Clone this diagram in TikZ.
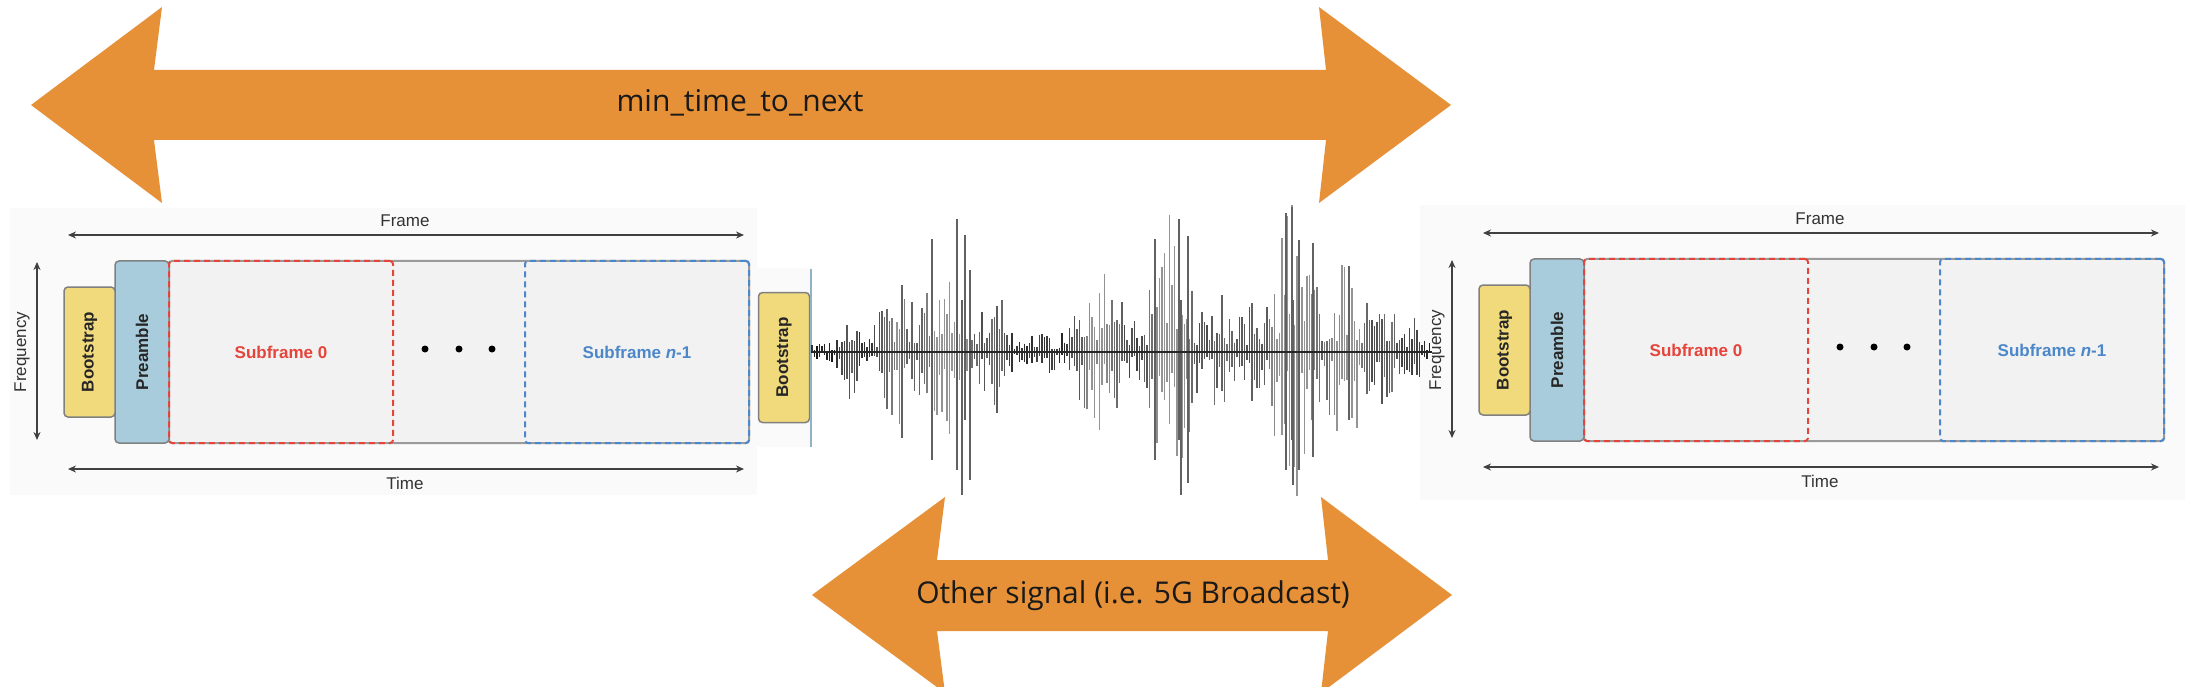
\documentclass[tikz,border=0pt]{standalone}
\usepackage{fontspec}
\setmainfont{Open Sans}
\newfontfamily\arialf{Liberation Sans}
\usetikzlibrary{arrows.meta}
\definecolor{orng}{HTML}{E69138}
\definecolor{bootyellow}{HTML}{F1DA7C}
\definecolor{preblue}{HTML}{A8CCDB}
\definecolor{mainfill}{HTML}{F2F2F2}
\definecolor{mainborder}{HTML}{9A9A9A}
\definecolor{subred}{HTML}{E5443B}
\definecolor{subblue}{HTML}{4C87C9}
\definecolor{panelbg}{HTML}{FAFAFA}
\definecolor{edgeblue}{HTML}{8FB2C4}

\pgfmathdeclarefunction{bump}{4}{%
  \begingroup
  \pgfmathparse{(#1-#2)/#3}\let\bmpt\pgfmathresult
  \pgfmathparse{#4*exp(-min(\bmpt*\bmpt,9))}%
  \pgfmathsmuggle\pgfmathresult
  \endgroup}
\pgfmathdeclarefunction{wenv}{1}{%
  \begingroup
  \pgfmathparse{9+bump(#1,850,10,40)+bump(#1,895,18,75)
    +bump(#1,950,24,140)+bump(#1,997,12,50)+bump(#1,1040,15,18)
    +bump(#1,1100,26,85)+bump(#1,1172,22,145)+bump(#1,1222,16,55)
    +bump(#1,1252,14,35)+bump(#1,1292,22,150)+bump(#1,1347,24,95)
    +bump(#1,1390,12,50)+bump(#1,1414,8,28)}%
  \pgfmathsmuggle\pgfmathresult
  \endgroup}

\tikzset{
  dimarrow/.style={draw=black!75, line width=1.4pt,
    {Stealth[length=8pt,width=7pt]}-{Stealth[length=8pt,width=7pt]}},
  smalllabel/.style={font=\arialf\fontsize{17}{20}\selectfont, text=black!80, inner sep=0pt},
  bootbox/.style={draw=black!50, line width=1.5pt, fill=bootyellow, rounded corners=4pt,
    rotate=90, minimum width=130pt, minimum height=51pt, inner sep=0pt,
    font=\arialf\bfseries\fontsize{17}{20}\selectfont, text=black!85},
  prebox/.style={draw=black!50, line width=1.5pt, fill=preblue, rounded corners=4pt,
    rotate=90, minimum width=182pt, minimum height=54pt, inner sep=0pt,
    font=\arialf\bfseries\fontsize{17}{20}\selectfont, text=black!85},
  mainbox/.style={draw=mainborder, line width=2pt, fill=mainfill, rounded corners=3pt,
    minimum width=580pt, minimum height=182pt, inner sep=0pt},
  redsub/.style={draw=subred, line width=2pt, dash pattern=on 6pt off 4pt, rounded corners=3pt,
    minimum width=224pt, minimum height=182pt, inner sep=0pt,
    font=\arialf\bfseries\fontsize{17}{20}\selectfont, text=subred},
  bluesub/.style={draw=subblue, line width=2pt, dash pattern=on 6pt off 4pt, rounded corners=3pt,
    minimum width=224pt, minimum height=182pt, inner sep=0pt,
    font=\arialf\bfseries\fontsize{17}{20}\selectfont, text=subblue},
  dotn/.style={circle, fill=black, minimum size=7pt, inner sep=0pt},
  bigarrow/.style={fill=orng, draw=none},
  biglabel/.style={font=\fontsize{30}{36}\selectfont, text=black!90, inner sep=0pt},
  frameblock/.pic={
    \coordinate (-fl) at (68,235); \coordinate (-fr) at (744,235);
    \draw[dimarrow] (-fl) -- (-fr);
    \node[smalllabel] (-frame) at (405,221) {Frame};
    \coordinate (-tl) at (68,469); \coordinate (-tr) at (744,469);
    \draw[dimarrow] (-tl) -- (-tr);
    \node[smalllabel] (-time) at (405,483) {Time};
    \coordinate (-qt) at (37,262); \coordinate (-qb) at (37,440);
    \draw[dimarrow] (-qt) -- (-qb);
    \node[smalllabel, rotate=90] (-freq) at (22,352) {Frequency};
    \node[mainbox] (-main) at (459,352) {};
    \node[prebox] (-pre) at (142,352) {Preamble};
    \node[bootbox] (-boot) at (89.5,352) {Bootstrap};
    \node[redsub] (-sub0) at (281,352) {Subframe 0};
    \node[bluesub] (-subn) at (637,352) {Subframe \textit{n}-1};
    \node[dotn] (-d1) at (425,349) {};
    \node[dotn] (-d2) at (459,349) {};
    \node[dotn] (-d3) at (492,349) {};
  }
}

\begin{document}
\begin{tikzpicture}[x=1pt, y=-1pt]
  \useasboundingbox (0,0) rectangle (2185,687);
  \clip (0,0) rectangle (2185,687);
  \fill[white] (0,0) rectangle (2185,687);

  % panel backgrounds
  \fill[panelbg] (10,208) rectangle (757,495);
  \fill[panelbg] (1420,205) rectangle (2185,500);
  \fill[panelbg] (745,268) rectangle (811,447);

  % frame diagrams
  \pic (L) at (0,0) {frameblock};
  \pic (R) at (1415,-2) {frameblock};

  % middle bootstrap
  \node[bootbox] (mboot) at (784,357.5) {Bootstrap};
  \coordinate (edgeT) at (811,269);
  \coordinate (edgeB) at (811,447);
  \draw[edgeblue, line width=1.5pt] (edgeT) -- (edgeB);

  % waveform
  \pgfmathsetseed{4711}
  \foreach \i in {0,...,247} {
    \pgfmathsetmacro{\xx}{812+2.5*\i}
    \pgfmathsetmacro{\ev}{wenv(\xx)}
    \pgfmathsetmacro{\ra}{rnd}
    \pgfmathsetmacro{\rb}{rnd}
    \pgfmathsetmacro{\up}{\ev*(0.12+0.88*\ra^1.6)}
    \pgfmathsetmacro{\dn}{\ev*(0.12+0.88*\rb^1.6)}
    \pgfmathsetmacro{\gr}{min(92,max(42,96-0.5*\ev-12*rnd))}
    \draw[line width=1.2pt, draw=black!\gr] (\xx,352-\up) -- (\xx,352+\dn);
  }
  % the tallest spikes of the signal
  \foreach \sx/\st/\sb in {902/285/438, 932/239/460, 957/219/470, 962/300/495,
      965/235/420, 970/270/480, 1155/239/460, 1179/219/440, 1181/300/495,
      1188/236/483, 1286/213/470, 1292/207/440, 1293/300/485, 1299/240/470,
      1313/243/457, 1349/266/420} {
    \draw[line width=1.2pt, draw=black!62] (\sx,\st) -- (\sx,\sb);
  }
  \coordinate (wl) at (811,352);
  \coordinate (wr) at (1432,352);
  \draw[black!85, line width=1.2pt] (wl) -- (wr);

  % top orange double arrow
  \fill[bigarrow] (31,105) -- (162,7) -- (154,70) -- (1326,70) -- (1319,7) -- (1451,105)
    -- (1319,203) -- (1326,140) -- (154,140) -- (162,203) -- cycle;
  \node[biglabel] (mttn) at (740,103) {min\_time\_to\_next};

  % bottom orange double arrow
  \fill[bigarrow] (812,595) -- (945,497) -- (937,560) -- (1328,560) -- (1321,497) -- (1452,595)
    -- (1321,693) -- (1328,631) -- (937,631) -- (945,693) -- cycle;
  \node[biglabel] (other) at (1133,596) {Other signal (i.e. 5G Broadcast)};
\end{tikzpicture}
\end{document}
